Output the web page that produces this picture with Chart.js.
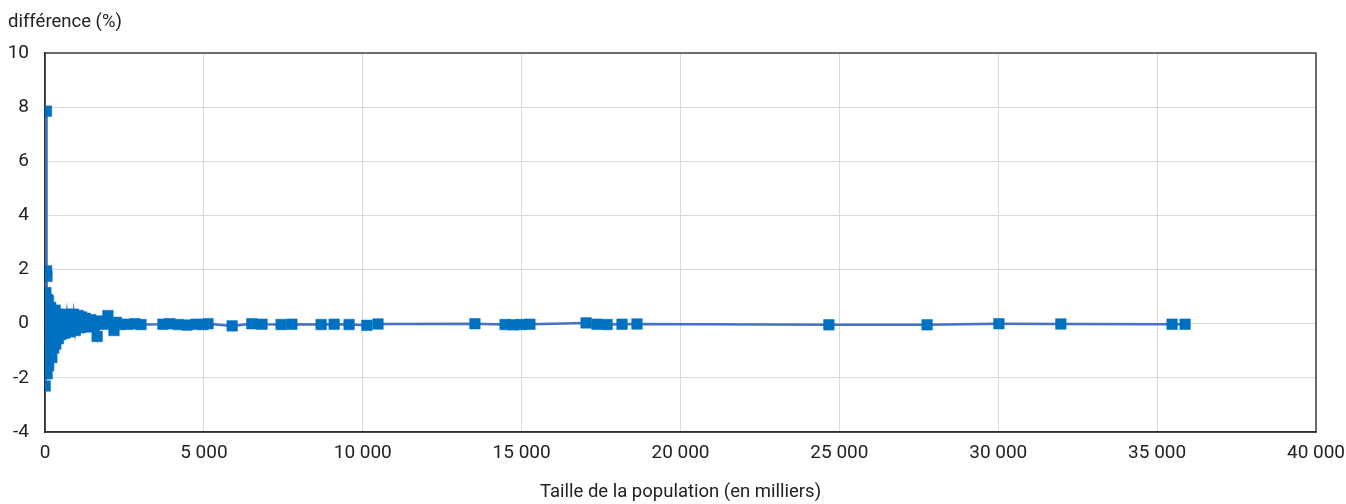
<!DOCTYPE html>
<html>
<head>
<meta charset="utf-8">
<script src="https://cdn.jsdelivr.net/npm/chart.js@4/dist/chart.umd.min.js"></script>
<style>
  html, body { margin: 0; padding: 0; background: #fff; }
  #wrap { width: 1346px; height: 504px; position: relative; }
</style>
</head>
<body>
<div id="wrap"><canvas id="c" width="1346" height="504"></canvas></div>
<script>
// Population size (thousands)
const population = [
  3, 5, 8, 11, 14, 18, 22, 26, 30, 35, 40, 45, 50, 55, 60, 66, 72, 78, 85, 92,
  100, 108, 115, 123, 130, 140, 150, 160, 170, 180, 190, 200, 215, 230, 245, 260, 275, 290, 305, 320,
  340, 360, 380, 400, 420, 440, 460, 480, 500, 530, 560, 590, 620, 650, 680, 710, 740, 780, 820, 860,
  900, 950, 1000, 1050, 1100, 1150, 1200, 1260, 1320, 1380, 1440, 1500, 1560, 1640, 1700, 1760, 1820, 1900, 1980, 2060,
  2170, 2250, 2360, 2610, 2830, 3020, 3710, 3930, 4190, 4470, 4750, 4970, 5130, 5890, 6510, 6830, 7430, 7770, 8690, 9100,
  9570, 10130, 10480, 13530, 14480, 14730, 14980, 15260, 17030, 17370, 17690, 18160, 18630, 24670, 27760, 30020, 31970, 35470, 35880
];
// Difference (%)
const difference = [
  0.2, -2.3, -0.6, -1.4, 0.3, 0.1, -1.0, 1.15, -0.2, 0.6, -1.6, 7.85, 1.95, -0.8, 1.75, -1.85, 0.9, -0.3, -1.2, 0.5,
  -0.5, 0.85, -1.55, 0.2, -0.9, 0.4, -1.1, 0.05, -0.7, 0.6, -0.35, 0.3, -1.25, 0.15, -0.6, 0.45, -0.9, 0.1, -0.4, 0.5,
  -0.75, 0.2, -0.3, 0.35, -0.55, 0.05, -0.2, 0.3, -0.4, 0.25, -0.15, 0.3, -0.35, 0.1, 0.35, -0.2, 0.25, -0.3, 0.3, -0.1,
  0.35, -0.25, 0.2, 0.3, -0.15, 0.25, -0.1, 0.2, 0.1, -0.12, 0.15, 0.05, -0.05, -0.47, 0.1, 0.05, -0.02, 0.05, 0.3, 0.02,
  -0.25, 0.05, -0.03, -0.02, 0.0, -0.03, -0.02, 0.0, -0.03, -0.05, -0.02, -0.03, 0.0, -0.08, 0.0, -0.02, -0.03, -0.02, -0.03, -0.02,
  -0.03, -0.06, -0.01, 0.0, -0.03, -0.04, -0.03, -0.02, 0.03, -0.02, -0.03, -0.02, -0.01, -0.04, -0.04, 0.0, -0.01, -0.02, -0.02
];
const xTicks = [0, 5000, 10000, 15000, 20000, 25000, 30000, 35000, 40000];
const yTicks = [-4, -2, 0, 2, 4, 6, 8, 10];
const yTitle = 'différence (%)';
const xTitle = 'Taille de la population (en milliers)';

const points = population.map((x, i) => ({ x: x, y: difference[i] }));
const fmt = v => String(v).replace(/\B(?=(\d{3})+(?!\d))/g, ' ');
const FONT = 'Roboto, "Liberation Sans", sans-serif';

const framePlugin = {
  id: 'frame',
  beforeDatasetsDraw(chart) {
    const { ctx, chartArea: a } = chart;
    ctx.save();
    ctx.strokeStyle = '#404040';
    ctx.lineWidth = 1.5;
    ctx.strokeRect(a.left, a.top, a.right - a.left, a.bottom - a.top);
    ctx.restore();
  },
  afterDraw(chart) {
    const { ctx } = chart;
    ctx.save();
    ctx.font = '18.5px ' + FONT;
    ctx.fillStyle = '#222';
    ctx.textBaseline = 'middle';
    ctx.textAlign = 'left';
    ctx.fillText(yTitle, 8, 22);
    ctx.restore();
  }
};

new Chart(document.getElementById('c'), {
  type: 'scatter',
  data: {
    datasets: [{
      data: points,
      showLine: true,
      borderColor: '#4472C4',
      borderWidth: 2.5,
      pointStyle: 'rect',
      pointRadius: 7.5,
      pointHoverRadius: 7.5,
      pointBackgroundColor: '#0070C0',
      pointBorderColor: '#0070C0',
      pointBorderWidth: 0.5,
      tension: 0
    }]
  },
  options: {
    responsive: false,
    animation: false,
    events: [],
    layout: { padding: { top: 53, right: 30, left: 8, bottom: 0 } },
    plugins: { legend: { display: false }, tooltip: { enabled: false } },
    scales: {
      x: {
        type: 'linear',
        min: 0, max: 40000,
        afterBuildTicks: s => { s.ticks = xTicks.map(v => ({ value: v })); },
        afterFit: s => { s.paddingRight = 0; s.paddingLeft = 0; },
        ticks: { callback: v => fmt(v), font: { family: FONT, size: 19 }, color: '#222', padding: 10, maxRotation: 0 },
        grid: { color: '#d9d9d9', lineWidth: 1, drawTicks: false },
        border: { color: '#000', width: 1.5 },
        title: { display: true, text: xTitle, font: { family: FONT, size: 18.5 }, color: '#222', padding: { top: 6, bottom: 1 } }
      },
      y: {
        type: 'linear',
        min: -4, max: 10,
        afterBuildTicks: s => { s.ticks = yTicks.map(v => ({ value: v })); },
        afterFit: s => { s.width = 37; },
        ticks: { font: { family: FONT, size: 19 }, color: '#222', padding: 16 },
        grid: { color: '#d9d9d9', lineWidth: 1, drawTicks: false },
        border: { color: '#000', width: 1.5 }
      }
    }
  },
  plugins: [framePlugin]
});
</script>
</body>
</html>
